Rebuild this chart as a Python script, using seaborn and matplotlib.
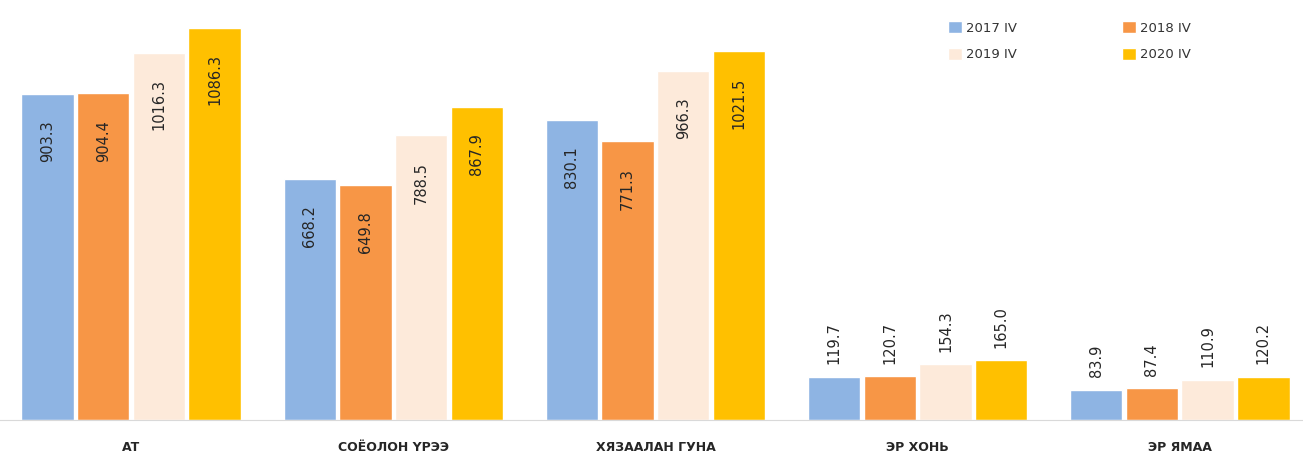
import matplotlib
matplotlib.use("Agg")
import matplotlib.pyplot as plt
import seaborn as sns
import pandas as pd

categories = ["АТ", "СОЁОЛОН ҮРЭЭ", "ХЯЗААЛАН ГУНА", "ЭР ХОНЬ", "ЭР ЯМАА"]
years = ["2017 IV", "2018 IV", "2019 IV", "2020 IV"]
v2017 = [903.3, 668.2, 830.1, 119.7, 83.9]
v2018 = [904.4, 649.8, 771.3, 120.7, 87.4]
v2019 = [1016.3, 788.5, 966.3, 154.3, 110.9]
v2020 = [1086.3, 867.9, 1021.5, 165.0, 120.2]
colors = ["#8EB4E3", "#F79646", "#FDEADA", "#FFC000"]

rows = []
for year, vals in zip(years, [v2017, v2018, v2019, v2020]):
    for cat, v in zip(categories, vals):
        rows.append({"category": cat, "year": year, "value": v})
df = pd.DataFrame(rows)

sns.set_style("white")
plt.rcParams["font.family"] = ["DejaVu Sans"]

fig = plt.figure(figsize=(13.03, 4.55), dpi=100)
ax = fig.add_axes([0.0, 35 / 455, 1.0, 420 / 455])

sns.barplot(data=df, x="category", y="value", hue="year", palette=colors,
            width=0.85, gap=0.06, saturation=1, ax=ax, legend=True)

ax.set_xlim(-0.5, 4.47)
ax.set_ylim(0, 1163)
ax.set_xlabel("")
ax.set_ylabel("")
ax.set_yticks([])
for s in ["top", "left", "right"]:
    ax.spines[s].set_visible(False)
ax.spines["bottom"].set_color("#D9D9D9")
ax.tick_params(axis="x", length=0, pad=15)
for lbl in ax.get_xticklabels():
    lbl.set_fontsize(9)
    lbl.set_fontweight("bold")
    lbl.set_color("#262626")

# value labels: inside the top of tall bars, above short ones
for cont in ax.containers:
    for bar in cont:
        h = bar.get_height()
        xc = bar.get_x() + bar.get_width() / 2
        if h > 500:
            ax.annotate(f"{h:.1f}", (xc, h), xytext=(0, -19), textcoords="offset points",
                        rotation=90, ha="center", va="top", fontsize=10.5, color="#262626")
        else:
            ax.annotate(f"{h:.1f}", (xc, h), xytext=(0, 9), textcoords="offset points",
                        rotation=90, ha="center", va="bottom", fontsize=10.5, color="#262626")

# legend filled row by row: 2017, 2018 / 2019, 2020
handles, labels = ax.get_legend_handles_labels()
order = [0, 2, 1, 3]
ax.legend([handles[i] for i in order], [labels[i] for i in order], ncol=2,
          loc="upper left", bbox_to_anchor=(948 / 1303, 1 - 21 / 455),
          bbox_transform=fig.transFigure, frameon=False, fontsize=9.5,
          handlelength=1.05, handleheight=1.05, handletextpad=0.3,
          columnspacing=8.0, labelspacing=1.0, borderpad=0, borderaxespad=0,
          labelcolor="#333333")

fig.savefig("out.png", dpi=100)
